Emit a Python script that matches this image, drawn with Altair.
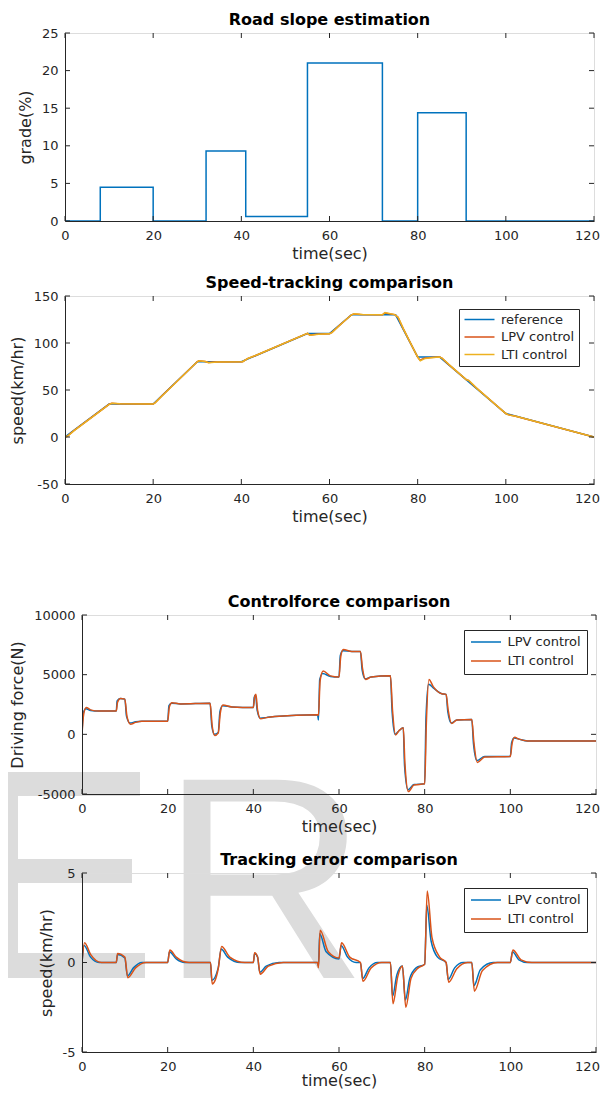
import altair as alt
import pandas as pd

FONT = "DejaVu Sans"
AX = "#262626"
BLUE = "#0072BD"
ORANGE = "#D95319"
YELLOW = "#EDB120"
WM = "#dcdcdc"

# ---------------- data ----------------
x_ticks = [0, 20, 40, 60, 80, 100, 120]

# panel 1: road slope
slope_t = [0, 8, 20, 32, 41, 55, 72, 80, 91, 120]
slope_grade = [0, 4.5, 0, 9.3, 0.6, 21, 0, 14.4, 0, 0]
slope_ticks = [0, 5, 10, 15, 20, 25]

# panel 2: speed tracking
speed_series = ["reference", "LPV control", "LTI control"]
ref_t = [0, 10, 20, 30, 40, 55, 60, 65, 75, 80, 85, 100, 120]
ref_v = [0, 35, 35, 80, 80, 110, 110, 130, 130, 85, 85, 25, 0]
lpv_t = [0, 0.5, 2, 10, 10.6, 12, 20, 20.4, 22, 30,
         30.3, 31.8, 32.5, 34, 40, 40.3, 41.5, 43, 55, 55.5,
         57, 60, 60.5, 62, 65, 65.5, 67, 72, 72.5, 74.8,
         75.5, 76.5, 78, 80, 80.5, 81.5, 83, 85, 85.5, 87,
         91, 91.5, 93, 100, 100.5, 102, 120]
lpv_v = [0, 0.8, 6.7, 34.8, 35.8, 35.3, 35, 36.2, 43.8, 80,
         81, 80.3, 79.3, 79.7, 80, 80.1, 83.6, 86.2, 110.2, 108.4,
         109.4, 109.8, 111, 117.7, 130, 130.9, 130.3, 130, 131.9, 130.2,
         127.6, 117.4, 103.3, 85.1, 81.8, 83.8, 84.7, 85, 84, 77.3,
         61, 60.3, 53.4, 25, 23.8, 22.4, 0]
lti_t = [0, 0.6, 2, 10, 10.7, 12.5, 20, 20.5, 22, 30,
         30.4, 31.8, 32.6, 34.5, 40, 40.3, 41.6, 43.5, 55, 55.6,
         57.5, 60, 60.6, 62.5, 65, 65.6, 67.5, 72, 72.6, 74.8,
         75.6, 76.8, 78.5, 80, 80.6, 81.7, 83.5, 85, 85.6, 87.5,
         91, 91.6, 93.5, 100, 100.6, 102.5, 120]
lti_v = [0, 1.0, 6.55, 34.7, 35.85, 35.3, 35, 36.55, 43.7, 80,
         81.2, 80.35, 79.1, 79.7, 80, 80.05, 83.85, 87.2, 110.3, 108.2,
         109.4, 109.75, 111.3, 119.7, 130, 131.05, 130.3, 130, 132.3, 130.2,
         127.1, 114.7, 98.8, 85.1, 81, 83.6, 84.7, 85, 83.7, 75.35,
         61, 60.2, 51.45, 25, 23.55, 21.7, 0]
speed_ticks = [-50, 0, 50, 100, 150]

# panel 3: control force
ctrl_series = ["LPV control", "LTI control"]
f_lpv_t = [0, 0.3, 0.9, 2, 4, 8, 8.2, 8.9, 10, 10.4,
           11.2, 12.5, 14, 20, 20.3, 20.9, 23, 29.9, 30.3, 30.9,
           31.8, 32.2, 32.8, 35, 40, 40.2, 40.5, 40.9, 41.6, 43,
           45, 55, 55.2, 55.5, 56.2, 58, 60, 60.3, 60.9, 63,
           65, 65.4, 66.1, 67.5, 72, 72.4, 73.1, 74, 75, 75.3,
           76.1, 77.5, 80, 80.3, 80.9, 82, 84, 85, 85.4, 86.2,
           87.5, 91, 91.4, 92.2, 94, 100, 100.3, 100.9, 102, 104, 120]
f_lpv_v = [0, 1800, 2150, 2000, 1950, 1950, 2800, 3000, 2950, 1500,
           950, 1050, 1100, 1100, 2400, 2600, 2550, 2600, 700, 0,
           150, 1900, 2400, 2300, 2250, 3100, 3300, 2000, 1350, 1400,
           1500, 1650, 1200, 4600, 5100, 4850, 4800, 6600, 7000, 6950,
           6950, 5400, 4650, 4800, 4900, 1900, 0, 300, 550, -2600,
           -4650, -4200, -4150, 1300, 4200, 3900, 3400, 3350, 1900, 950,
           1200, 1250, -800, -2200, -1850, -1850, -700, -300, -400, -550, -550]
f_lti_t = [0, 0.4, 1, 2, 4, 8, 8.3, 9, 10, 10.5,
           11.3, 12.5, 14, 20, 20.4, 21, 23, 29.9, 30.4, 31,
           31.8, 32.3, 32.9, 35, 40, 40.3, 40.6, 41, 41.7, 43,
           45, 55, 55.2, 55.6, 56.3, 58, 60, 60.4, 61, 63,
           65, 65.5, 66.2, 67.5, 72, 72.5, 73.2, 74, 75, 75.4,
           76.2, 77.5, 80, 80.4, 81, 82, 84, 85, 85.5, 86.3,
           87.5, 91, 91.5, 92.3, 94, 100, 100.4, 101, 102, 104, 120]
f_lti_v = [0, 1700, 2250, 2050, 1950, 1950, 2700, 3000, 2950, 1500,
           850, 1000, 1100, 1100, 2300, 2650, 2550, 2600, 700, -100,
           100, 1800, 2450, 2300, 2250, 3100, 3350, 2000, 1300, 1400,
           1500, 1650, 1600, 4500, 5300, 4900, 4800, 6500, 7100, 6950,
           6950, 5500, 4600, 4800, 4900, 2000, -50, 300, 550, -2500,
           -4800, -4250, -4150, 1000, 4600, 4000, 3400, 3350, 2000, 900,
           1200, 1250, -700, -2350, -1900, -1850, -800, -250, -400, -550, -550]
force_ticks = [-5000, 0, 5000, 10000]

# panel 4: tracking error
e_lpv_t = [0, 0.5, 2, 4, 8, 8.3, 10, 10.6, 12, 14,
           20, 20.4, 22, 24, 30, 30.3, 31.8, 32.5, 34, 37,
           40, 40.3, 41, 41.5, 43, 46, 55, 55.2, 55.5, 57,
           60, 60.5, 62, 64, 65, 65.5, 67, 69, 72, 72.5,
           73.5, 74.8, 75.5, 76.5, 78, 80, 80.5, 81.5, 83, 85,
           85.5, 87, 89, 91, 91.5, 93, 96, 100, 100.5, 102, 104, 120]
e_lpv_v = [0, 0.95, 0.3, 0, 0, 0.45, 0.25, -0.75, -0.3, 0,
           0, 0.6, 0.2, 0, 0, -1.0, -0.3, 0.75, 0.3, 0,
           0, 0.5, 0.3, -0.55, -0.2, 0, 0, -0.2, 1.6, 0.6,
           0.2, 0.95, 0.3, 0, 0, -0.9, -0.3, 0, 0, -1.9,
           -0.7, -0.2, -2.1, -0.9, -0.3, -0.1, 3.2, 1.2, 0.3, 0,
           -0.95, -0.3, 0, 0, -1.3, -0.4, 0, 0, 0.6, 0.15, 0, 0]
e_lti_t = [0, 0.6, 2, 4.5, 8, 8.3, 10, 10.7, 12.5, 15,
           20, 20.5, 22, 25, 30, 30.4, 31.8, 32.6, 34.5, 38,
           40, 40.3, 41, 41.6, 43.5, 47, 55, 55.2, 55.6, 57.5,
           60, 60.6, 62.5, 65, 65.6, 67.5, 70, 72, 72.6, 73.7,
           74.8, 75.6, 76.8, 78.5, 80, 80.6, 81.7, 83.5, 85, 85.6,
           87.5, 90, 91, 91.6, 93.5, 97, 100, 100.6, 102.5, 105, 120]
e_lti_v = [0, 1.1, 0.45, 0, 0, 0.5, 0.3, -0.85, -0.3, 0,
           0, 0.7, 0.3, 0, 0, -1.2, -0.35, 0.9, 0.3, 0,
           0, 0.55, 0.3, -0.65, -0.2, 0, 0, -0.3, 1.8, 0.6,
           0.25, 1.1, 0.3, 0, -1.05, -0.3, 0, 0, -2.3, -0.8,
           -0.2, -2.5, -0.9, -0.3, -0.1, 4.0, 1.4, 0.3, 0, -1.1,
           -0.35, 0, 0, -1.6, -0.45, 0, 0, 0.7, 0.15, 0, 0]
err_ticks = [-5, 0, 5]


def series_df(names, ts, vs):
    frames = []
    for n, t, v in zip(names, ts, vs):
        frames.append(pd.DataFrame({"t": t, "y": v, "series": n}))
    return pd.concat(frames, ignore_index=True)


NEG = "datum.value < 0 ? '-' + format(-datum.value, 'd') : format(datum.value, 'd')"


def make_axes(ytitle, yticks, last_shift, xtitle_pad):
    common = dict(labelFont=FONT, labelFontSize=13, labelColor=AX, titleFont=FONT,
                  titleFontSize=16, titleFontWeight="normal", titleColor=AX,
                  domain=True, domainColor=AX, domainWidth=1, ticks=False, tickSize=0,
                  grid=False, zindex=1, labelFlush=False, labelOverlap=False, labelExpr=NEG)
    xax = alt.Axis(title="time(sec)", values=x_ticks, labelPadding=8, titlePadding=xtitle_pad,
                   labelOffset={"condition": {"test": "datum.value === 120", "value": last_shift},
                                "value": 0},
                   **common)
    yax = alt.Axis(title=ytitle, values=yticks, labelPadding=7, titlePadding=8, **common)
    return xax, yax


def make_legend(lx, ly, rowpad, pad):
    return alt.Legend(title=None, orient="none", legendX=lx, legendY=ly, direction="vertical",
                      symbolType="M-1,0H5", symbolSize=100, symbolStrokeWidth=1.5,
                      labelOffset=25, labelFont=FONT, labelFontSize=13, labelColor=AX,
                      padding=pad, rowPadding=rowpad, strokeColor=AX, fillColor="white",
                      labelLimit=300)


def panel(df, title, ytitle, ydom, yticks, W, H, color=None, interp="linear", under=(),
          last_shift=-7, xtitle_pad=3):
    xax, yax = make_axes(ytitle, yticks, last_shift, xtitle_pad)
    xs = alt.Scale(domain=[0, 120], nice=False, zero=False)
    ys = alt.Scale(domain=ydom, nice=False, zero=False)
    enc = dict(x=alt.X("t:Q", scale=xs, axis=xax), y=alt.Y("y:Q", scale=ys, axis=yax))
    if color is not None:
        enc["color"] = color
        lines = alt.Chart(df).mark_line(strokeWidth=1.5, interpolate=interp, clip=True).encode(**enc)
    else:
        lines = alt.Chart(df).mark_line(strokeWidth=1.5, interpolate=interp, clip=True,
                                        color=BLUE).encode(**enc)
    L = 5
    xt = alt.Chart(pd.DataFrame({"t": x_ticks})).mark_rule(color=AX, strokeWidth=1)
    yt = alt.Chart(pd.DataFrame({"y": yticks})).mark_rule(color=AX, strokeWidth=1)
    xenc = alt.X("t:Q", scale=xs, axis=xax)
    yenc = alt.Y("y:Q", scale=ys, axis=yax)
    tick_layers = [
        xt.encode(x=xenc, y=alt.value(H), y2=alt.value(H - L)),
        xt.encode(x=xenc, y=alt.value(0), y2=alt.value(L)),
        yt.encode(y=yenc, x=alt.value(0), x2=alt.value(L)),
        yt.encode(y=yenc, x=alt.value(W), x2=alt.value(W - L)),
    ]
    return alt.layer(*under, lines, *tick_layers).properties(
        width=W, height=H,
        title=alt.TitleParams(text=title, font=FONT, fontSize=16, fontWeight="bold",
                              color="black", offset=-1, anchor="middle"))


def gap(w, h):
    return alt.Chart(pd.DataFrame({"s": [0]})).mark_point(opacity=0).properties(
        width=w, height=h, view=alt.ViewBackground(strokeOpacity=0, strokeWidth=0))


# ---------------- panels ----------------
W1, H1 = 529, 188
W3, H3 = 514, 179

p1 = panel(pd.DataFrame({"t": slope_t, "y": slope_grade}), "Road slope estimation",
           "grade(%)", [0, 25], slope_ticks, W1, H1, interp="step-after")

speed_df = series_df(speed_series, [ref_t, lpv_t, lti_t], [ref_v, lpv_v, lti_v])
p2 = panel(speed_df, "Speed-tracking comparison", "speed(km/hr)", [-50, 150], speed_ticks,
           W1, H1,
           color=alt.Color("series:N",
                           scale=alt.Scale(domain=speed_series, range=[BLUE, ORANGE, YELLOW]),
                           legend=make_legend(394, 13, 3.5, 4)))

# watermark (decoration) drawn beneath panel 3 content
wm_src = alt.Chart(pd.DataFrame({"a": [0]}))
wm_rects = [(-90, -64, 157, 363), (-90, 58, 157, 181), (-90, 50, 244, 268), (-90, 63, 338, 363)]
wm_layers = [wm_src.mark_rect(color=WM).encode(x=alt.value(a), x2=alt.value(b),
                                               y=alt.value(c), y2=alt.value(d))
             for a, b, c, d in wm_rects]
wm_layers.append(wm_src.mark_text(text="R", font="Liberation Sans", fontSize=288, align="left",
                                  baseline="alphabetic", color=WM)
                 .encode(x=alt.value(78), y=alt.value(363)))

force_df = series_df(ctrl_series, [f_lpv_t, f_lti_t], [f_lpv_v, f_lti_v])
p3 = panel(force_df, "Controlforce comparison", "Driving force(N)", [-5000, 10000], force_ticks,
           W3, H3, interp="monotone", under=wm_layers, last_shift=-9,
           color=alt.Color("series:N",
                           scale=alt.Scale(domain=ctrl_series, range=[BLUE, ORANGE]),
                           legend=make_legend(382, 15, 5, 5.5)))

err_df = series_df(ctrl_series, [e_lpv_t, e_lti_t], [e_lpv_v, e_lti_v])
p4 = panel(err_df, "Tracking error comparison", "speed(km/hr)", [-5, 5], err_ticks,
           W3, H3, interp="monotone", last_shift=-9, xtitle_pad=-1,
           color=alt.Color("series:N",
                           scale=alt.Scale(domain=ctrl_series, range=[BLUE, ORANGE]),
                           legend=make_legend(382, 15, 5, 5.5)))

RES = dict(x="independent", y="independent", color="independent")
bottom_inner = alt.vconcat(p3, gap(1, 79), p4, spacing=0, bounds="flush").resolve_scale(**RES)
bottom = alt.hconcat(gap(1, 1), bottom_inner, spacing=16, bounds="flush").resolve_scale(**RES)

# fixed canvas 592 x 1083: with the page's 8px margins it fits the 608 x 1099 window
SVG_W, SVG_H = 592, 1083
PAD_L, PAD_T = 57, 25
chart = alt.vconcat(p1, gap(1, 75), p2, gap(1, 131), bottom, spacing=0,
                    bounds="flush").resolve_scale(**RES).properties(
    autosize=alt.AutoSizeParams(type="none"),
    padding={"left": PAD_L, "top": PAD_T, "right": SVG_W - PAD_L, "bottom": SVG_H - PAD_T},
    background="white"
).configure_view(stroke=AX, strokeWidth=1).configure(font=FONT)

chart.save("out.html", embed_options={"renderer": "svg", "actions": False})
